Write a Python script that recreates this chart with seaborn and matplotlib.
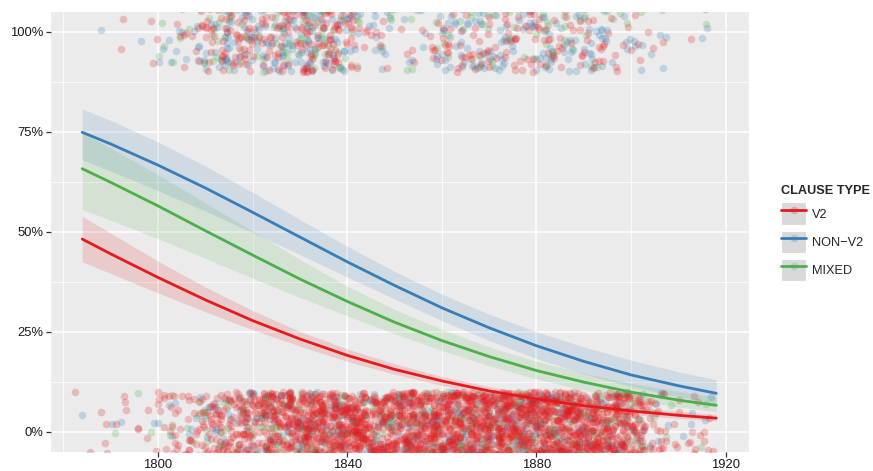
import numpy as np
import pandas as pd
import seaborn as sns
import matplotlib
matplotlib.use("Agg")
import matplotlib.pyplot as plt
from matplotlib.lines import Line2D
from matplotlib.patches import Patch
from matplotlib.legend_handler import HandlerTuple
from matplotlib.ticker import FixedLocator

# ---------------- data ----------------
clause_types = ["V2", "NON\u2212V2", "MIXED"]
type_colors = ["#E41A1C", "#377EB8", "#4DAF4A"]

# observation counts per 5-year bin (bin centre years)
bin_years = [1785, 1790, 1795, 1800, 1805, 1810, 1815, 1820, 1825, 1830, 1835,
             1840, 1845, 1850, 1855, 1860, 1865, 1870, 1875, 1880, 1885, 1890,
             1895, 1900, 1905, 1910, 1915]
# outcome = 1 (top band)
v2_yes    = [0, 3, 1, 3, 8, 21, 35, 31, 35, 42, 39, 31, 11, 4, 7, 17, 21, 21, 18, 21, 17, 17, 14, 8, 3, 0, 5]
nonv2_yes = [0, 1, 1, 4, 8, 17, 28, 25, 28, 35, 34, 25, 13, 7, 8, 15, 20, 20, 17, 20, 20, 17, 14, 8, 4, 1, 4]
mixed_yes = [0, 0, 0, 3, 4, 7, 11, 10, 11, 14, 13, 10, 4, 3, 3, 7, 8, 8, 8, 8, 7, 8, 6, 4, 1, 0, 1]
# outcome = 0 (bottom band)
v2_no     = [2, 6, 8, 14, 28, 53, 70, 87, 119, 140, 147, 154, 140, 140, 154, 168, 175, 175, 168, 175, 168, 154, 133, 105, 35, 7, 12]
nonv2_no  = [1, 3, 3, 4, 7, 13, 15, 20, 27, 31, 31, 31, 28, 28, 31, 35, 39, 39, 39, 42, 39, 35, 28, 22, 8, 3, 5]
mixed_no  = [0, 1, 1, 3, 6, 8, 13, 15, 20, 21, 21, 21, 17, 17, 20, 21, 22, 22, 21, 22, 21, 20, 17, 14, 6, 1, 4]

# fitted probability curves and confidence bands
curve_years = [1784, 1790, 1800, 1810, 1820, 1830, 1840, 1850, 1860, 1870, 1880, 1890, 1900, 1910, 1918]
v2_fit    = [0.482, 0.445, 0.386, 0.330, 0.278, 0.232, 0.191, 0.156, 0.127, 0.102, 0.082, 0.065, 0.052, 0.041, 0.034]
v2_lo     = [0.425, 0.396, 0.347, 0.300, 0.255, 0.214, 0.176, 0.144, 0.116, 0.092, 0.073, 0.056, 0.043, 0.033, 0.027]
v2_hi     = [0.539, 0.497, 0.427, 0.362, 0.303, 0.251, 0.207, 0.170, 0.138, 0.113, 0.092, 0.075, 0.062, 0.051, 0.043]
nonv2_fit = [0.749, 0.720, 0.667, 0.610, 0.549, 0.487, 0.425, 0.366, 0.310, 0.260, 0.215, 0.176, 0.142, 0.115, 0.096]
nonv2_lo  = [0.680, 0.652, 0.603, 0.552, 0.498, 0.443, 0.387, 0.332, 0.278, 0.228, 0.183, 0.144, 0.113, 0.087, 0.070]
nonv2_hi  = [0.807, 0.779, 0.725, 0.665, 0.599, 0.531, 0.464, 0.401, 0.344, 0.294, 0.250, 0.212, 0.179, 0.150, 0.130]
mixed_fit = [0.658, 0.624, 0.565, 0.503, 0.442, 0.382, 0.326, 0.274, 0.228, 0.188, 0.153, 0.124, 0.099, 0.079, 0.066]
mixed_lo  = [0.556, 0.529, 0.483, 0.434, 0.384, 0.336, 0.290, 0.245, 0.203, 0.165, 0.132, 0.104, 0.081, 0.062, 0.050]
mixed_hi  = [0.747, 0.710, 0.643, 0.573, 0.502, 0.431, 0.364, 0.306, 0.256, 0.212, 0.176, 0.146, 0.121, 0.101, 0.087]

x_ticks = [1800, 1840, 1880, 1920]
y_ticks = [0, 0.25, 0.5, 0.75, 1.0]
y_tick_labels = ["0%", "25%", "50%", "75%", "100%"]

# ---------------- style ----------------
sns.set_theme(style="darkgrid", rc={
    "axes.facecolor": "#EBEBEB",
    "grid.color": "white",
    "axes.edgecolor": "#EBEBEB",
})
plt.rcParams["font.family"] = ["Liberation Sans", "DejaVu Sans"]

fig = plt.figure(figsize=(8.73, 4.71), dpi=100)
ax = fig.add_axes([0.0584, 0.041, 0.7995, 0.9335])

np.random.seed(7)

yes_counts = [v2_yes, nonv2_yes, mixed_yes]
no_counts = [v2_no, nonv2_no, mixed_no]
draw_order = [1, 2, 0]
for i in draw_order:
    years = np.concatenate([np.repeat(bin_years, yes_counts[i]), np.repeat(bin_years, no_counts[i])])
    outcome = np.concatenate([np.ones(sum(yes_counts[i])), np.zeros(sum(no_counts[i]))])
    df_pts = pd.DataFrame({"year": years.astype(float), "outcome": outcome})
    sns.regplot(data=df_pts, x="year", y="outcome", fit_reg=False,
                x_jitter=2.5, y_jitter=0.1, color=type_colors[i], ax=ax,
                scatter_kws=dict(s=30, alpha=0.24, linewidths=0, zorder=2))

fits = [v2_fit, nonv2_fit, mixed_fit]
los = [v2_lo, nonv2_lo, mixed_lo]
his = [v2_hi, nonv2_hi, mixed_hi]
for i in range(3):
    ax.fill_between(curve_years, los[i], his[i], color=type_colors[i], alpha=0.15,
                    linewidth=0, zorder=3)

curve_df = pd.DataFrame({
    "year": curve_years * 3,
    "p": v2_fit + nonv2_fit + mixed_fit,
    "type": [clause_types[0]] * len(curve_years) + [clause_types[1]] * len(curve_years)
            + [clause_types[2]] * len(curve_years),
})
sns.lineplot(data=curve_df, x="year", y="p", hue="type", hue_order=clause_types,
             palette=type_colors, linewidth=2.0, legend=False, ax=ax, zorder=4)

ax.set_xlim(1777.4, 1924.9)
ax.set_ylim(-0.05, 1.05)
ax.set_xticks(x_ticks)
ax.set_xticklabels([str(t) for t in x_ticks])
ax.set_yticks(y_ticks)
ax.set_yticklabels(y_tick_labels)
ax.xaxis.set_minor_locator(FixedLocator([1780, 1820, 1860, 1900]))
ax.yaxis.set_minor_locator(FixedLocator([0.125, 0.375, 0.625, 0.875]))
ax.grid(which="major", color="white", linewidth=1.1)
ax.grid(which="minor", color="white", linewidth=0.55)
ax.tick_params(which="major", length=3.5, width=0.9, color="#333333",
               labelsize=9.4, labelcolor="#1a1a1a", pad=2, bottom=True, left=True)
ax.tick_params(which="minor", length=0)
ax.set_xlabel("")
ax.set_ylabel("")
for s in ax.spines.values():
    s.set_visible(False)

handles = []
for i in range(3):
    bg = Patch(facecolor="#D9D9D9", edgecolor="white", linewidth=0.8)
    ln = Line2D([], [], color=type_colors[i], linewidth=2.0, marker="o", markersize=5.5,
                markerfacecolor=(matplotlib.colors.to_rgba(type_colors[i], 0.25)),
                markeredgecolor="none")
    handles.append((bg, ln))
leg = fig.legend(handles, clause_types, loc="center left", bbox_to_anchor=(0.889, 0.505),
                 title="CLAUSE TYPE", frameon=False, fontsize=9.2,
                 handler_map={tuple: HandlerTuple(ndivide=1, pad=0)},
                 handlelength=1.95, handleheight=2.35, handletextpad=0.45,
                 labelspacing=0.42, borderaxespad=0, alignment="left")
leg.get_title().set_fontweight("bold")
leg.get_title().set_fontsize(9.2)

fig.savefig("out.png", dpi=100)
